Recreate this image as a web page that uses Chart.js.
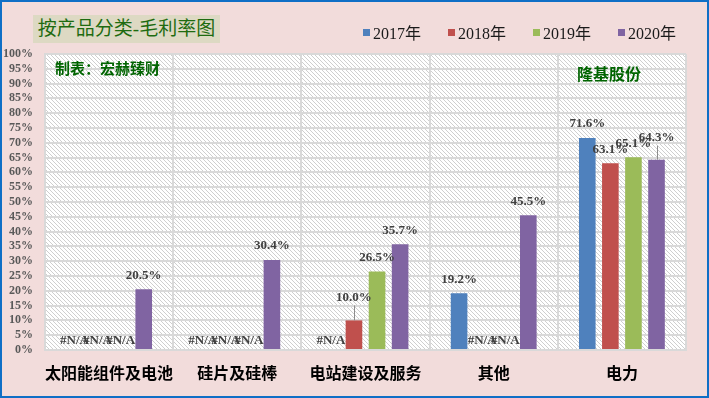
<!DOCTYPE html>
<html>
<head>
<meta charset="utf-8">
<script src="https://cdn.jsdelivr.net/npm/chart.js@4/dist/chart.umd.min.js"></script>
<style>
body{margin:0;}
#wrap{position:relative;width:709px;height:398px;background:#f2dcdb;overflow:hidden;}
#frame{position:absolute;left:0;top:0;width:709px;height:398px;box-sizing:border-box;border:2px solid #0f6fc6;pointer-events:none;}
#title{position:absolute;left:33px;top:15px;width:187px;height:28px;background:#ddd9c3;color:#1e6b10;
font:19px "Liberation Serif","Noto Sans CJK SC";line-height:28px;text-align:center;}
.note{position:absolute;color:#006400;font-weight:bold;font-family:"Noto Sans CJK SC";}
#legend{position:absolute;left:363px;top:22px;height:20px;display:flex;}
.item{width:85px;display:flex;align-items:center;font:16px "Liberation Serif","Noto Sans CJK SC";color:#1a1a1a;}
.item span{display:inline-block;width:7px;height:7px;margin-right:3px;}
canvas{position:absolute;left:0;top:0;}
</style>
</head>
<body>
<div id="wrap">
<canvas id="chart" width="709" height="398"></canvas>
<div id="title">按产品分类-毛利率图</div>
<div class="note" style="left:55px;top:57px;font-size:15px;">制表：宏赫臻财</div>
<div class="note" style="left:577px;top:61px;font-size:16px;">隆基股份</div>
<div id="legend"></div>
<div id="frame"></div>
</div>
<script>
const categories=["太阳能组件及电池","硅片及硅棒","电站建设及服务","其他","电力"]
const years=["2017年","2018年","2019年","2020年"]
const y2017=[null,null,null,19.2,71.6]
const y2018=[null,null,10.0,null,63.1]
const y2019=[null,null,26.5,null,65.1]
const y2020=[20.5,30.4,35.7,45.5,64.3]
const colors=["#4f81bd","#c0504d","#9bbb59","#8064a2"]
// labels that Excel pushed up with a leader line: "dataset,index" -> extra px
const lifted={"1,2":9,"3,4":8}

function makePattern(){
const c=document.createElement("canvas")
c.width=4;c.height=4
const g=c.getContext("2d")
g.fillStyle="#ffffff";g.fillRect(0,0,4,4)
g.fillStyle="#cfcfcf"
for(let i=0;i<4;i++)g.fillRect(i,i,1,1)
return g.createPattern(c,"repeat")
}

const hatch={
id:"hatch",
beforeDraw(chart){
const a=chart.chartArea,ctx=chart.ctx
ctx.save()
ctx.fillStyle=makePattern()
ctx.fillRect(a.left,a.top,a.right-a.left,a.bottom-a.top)
ctx.restore()
}
}

const valueLabels={
id:"valueLabels",
afterDatasetsDraw(chart){
const ctx=chart.ctx,y=chart.scales.y
ctx.save()
ctx.font="bold 13px 'Liberation Serif'"
ctx.fillStyle="#404040"
ctx.textAlign="center"
ctx.textBaseline="middle"
chart.data.datasets.forEach((ds,i)=>{
const meta=chart.getDatasetMeta(i)
ds.data.forEach((v,j)=>{
const x=meta.data[j].x
if(v===null){
ctx.fillText("#N/A",x,y.getPixelForValue(0)-9)
return
}
const top=y.getPixelForValue(v)
const extra=lifted[i+","+j]||0
const ly=top-14-extra
ctx.fillText(v.toFixed(1)+"%",x,ly)
if(extra){
ctx.strokeStyle="#8c8c8c"
ctx.lineWidth=1
ctx.beginPath()
ctx.moveTo(Math.round(x)+0.5,ly+8)
ctx.lineTo(Math.round(x)+0.5,top)
ctx.stroke()
}
})
})
ctx.restore()
}
}

const series=[y2017,y2018,y2019,y2020]
const chart=new Chart(document.getElementById("chart"),{
type:"bar",
data:{
labels:categories,
datasets:series.map((d,i)=>({
label:years[i],
data:d,
backgroundColor:colors[i],
categoryPercentage:0.72,
barPercentage:0.72
}))
},
options:{
responsive:false,
animation:false,
layout:{padding:{left:3,top:54,right:23,bottom:16}},
plugins:{legend:{display:false},tooltip:{enabled:false}},
scales:{
x:{
afterFit:s=>{s.height=32},
grid:{color:"#d9d9d9",lineWidth:2,offset:true,drawTicks:false},
border:{color:"#d9d9d9",width:2},
ticks:{padding:13,maxRotation:0,minRotation:0,autoSkip:false,color:"#000000",font:{family:"Noto Sans CJK SC",size:16,weight:"bold"}}
},
y:{
min:0,max:100,
afterFit:s=>{s.width=42},
grid:{color:"#d9d9d9",lineWidth:2,drawTicks:false},
border:{color:"#d9d9d9",width:2},
ticks:{stepSize:5,autoSkip:false,padding:12,color:"#595959",
font:{family:"Liberation Serif",size:12,weight:"bold"},
callback:v=>v+"%"}
}
}
},
plugins:[hatch,valueLabels]
})

const legend=document.getElementById("legend")
chart.data.datasets.forEach(ds=>{
const it=document.createElement("div")
it.className="item"
it.innerHTML='<span style="background:'+ds.backgroundColor+'"></span>'+ds.label
legend.appendChild(it)
})
</script>
</body>
</html>
